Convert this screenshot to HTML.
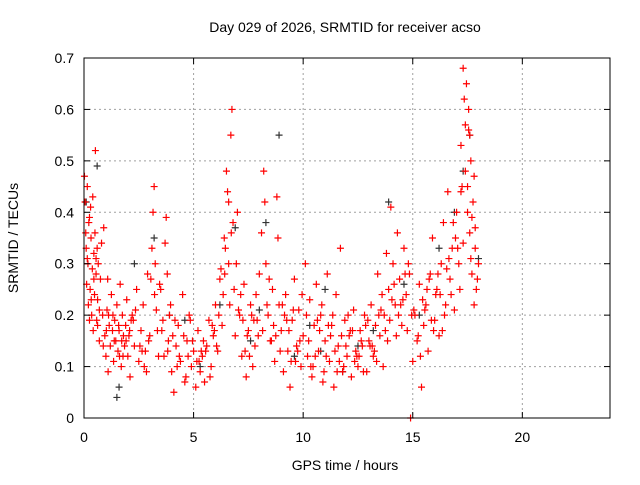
<!DOCTYPE html>
<html><head><meta charset="utf-8"><style>
body{margin:0;background:#fff;font-family:"Liberation Sans",sans-serif}
svg text{font-family:"Liberation Sans",sans-serif;font-size:14px;fill:#000}
</style></head><body>
<svg id="chart" width="640" height="480">
<rect x="0" y="0" width="640" height="480" fill="#fff"/>
<g id="grid"></g>
<g id="pts"></g>
<rect x="84" y="58" width="526" height="360" fill="none" stroke="#000" stroke-width="1"/>
<g id="ticks"></g>
<text x="345" y="32" text-anchor="middle">Day 029 of 2026, SRMTID for receiver acso</text>
<text x="345" y="470" text-anchor="middle">GPS time / hours</text>
<text x="18" y="238" text-anchor="middle" transform="rotate(-90 18 238)">SRMTID / TECUs</text>
</svg>
<script>
const xTicks=[0,5,10,15,20];
const yTicks=[0,0.1,0.2,0.3,0.4,0.5,0.6,0.7];
const yTickLabels=["0","0.1","0.2","0.3","0.4","0.5","0.6","0.7"];
const redT=[0.02,0.05,0.08,0.1,0.12,0.15,0.18,0.2,0.22,0.25,
0.28,0.3,0.32,0.35,0.38,0.4,0.42,0.45,0.48,0.5,
0.52,0.55,0.58,0.6,0.62,0.65,0.7,0.75,0.8,0.85,
0.9,0.95,1.0,1.05,1.1,1.15,1.2,1.25,1.3,1.35,
1.4,1.45,1.5,1.55,1.6,1.65,1.7,1.75,1.8,1.85,
1.9,1.95,2.0,2.05,2.1,2.2,2.3,2.4,2.5,2.6,
2.7,2.8,2.9,3.0,3.1,3.15,3.2,3.25,3.3,3.4,
3.5,3.6,3.7,3.75,3.8,3.85,3.9,4.0,4.1,4.2,
4.3,4.4,4.5,4.6,4.7,4.8,4.9,5.0,5.1,5.2,
5.3,5.4,5.5,5.6,5.7,5.8,5.9,6.0,6.1,6.2,
6.3,6.4,6.5,6.55,6.6,6.65,6.7,6.75,6.8,6.85,
6.9,7.0,7.1,7.2,7.3,7.4,7.5,7.6,7.7,7.8,
7.9,8.0,8.1,8.2,8.25,8.3,8.4,8.5,8.6,8.7,
8.8,8.85,8.9,9.0,9.1,9.2,9.3,9.4,9.5,9.6,
9.7,9.8,9.9,10.0,10.1,10.2,10.3,10.4,10.5,10.6,
10.7,10.8,10.9,11.0,11.1,11.2,11.3,11.4,11.5,11.6,
11.7,11.8,11.9,12.0,12.1,12.2,12.3,12.4,12.5,12.6,
12.7,12.8,12.9,13.0,13.1,13.2,13.3,13.4,13.5,13.6,
13.7,13.8,13.9,14.0,14.1,14.2,14.3,14.4,14.5,14.6,
14.7,14.8,14.9,15.0,15.1,15.2,15.3,15.4,15.5,15.6,
15.7,15.8,15.9,16.0,16.1,16.2,16.3,16.4,16.5,16.6,
16.7,16.8,16.9,17.0,17.1,17.2,17.3,17.35,17.4,17.45,
17.5,17.55,17.6,17.65,17.7,17.75,17.8,17.85,17.9,18.0,
0.15,0.45,0.7,1.02,1.32,1.62,1.92,2.25,2.55,2.85,
3.05,3.35,3.65,3.95,4.25,4.55,4.85,5.15,5.45,5.75,
6.05,6.35,6.45,6.6,6.95,7.25,7.55,7.85,8.15,8.45,
8.75,9.05,9.35,9.65,9.95,10.25,10.55,10.85,11.15,11.45,
11.75,12.05,12.35,12.65,12.95,13.25,13.55,13.85,14.15,14.45,
14.75,15.05,15.35,15.65,15.95,16.25,16.55,16.85,17.15,17.5,
0.33,0.62,0.88,1.12,1.38,1.58,1.78,2.08,2.35,2.65,
2.95,3.22,3.55,3.82,4.05,4.35,4.65,4.95,5.25,5.55,
5.85,6.15,6.42,6.72,7.05,7.35,7.65,7.95,8.35,8.65,
8.95,9.25,9.55,9.85,10.15,10.45,10.75,11.05,11.35,11.65,
11.95,12.25,12.55,12.85,13.15,13.45,13.75,14.05,14.35,14.65,
14.95,15.25,15.55,15.85,16.15,16.45,16.75,17.05,17.25,17.6,
0.25,0.55,1.08,1.72,2.15,2.75,3.45,4.15,4.75,5.35,
5.95,6.25,7.15,7.45,7.75,8.55,9.15,9.45,9.75,10.35,
10.65,10.95,11.25,11.55,11.85,12.15,12.45,12.75,13.05,13.35,
13.65,13.95,14.25,14.55,14.85,15.45,15.75,16.05,16.35,16.65,
16.95,17.2,17.4,17.7,17.8,17.95,17.85,17.65,17.55,17.3];
const redV=[0.47,0.42,0.36,0.33,0.26,0.45,0.3,0.22,0.38,0.19,
0.25,0.41,0.35,0.2,0.29,0.43,0.17,0.32,0.24,0.36,
0.52,0.28,0.19,0.33,0.23,0.3,0.15,0.27,0.34,0.2,
0.37,0.16,0.12,0.21,0.09,0.18,0.14,0.24,0.17,0.11,
0.19,0.15,0.22,0.13,0.17,0.26,0.1,0.2,0.16,0.14,
0.18,0.23,0.12,0.16,0.08,0.2,0.14,0.25,0.11,0.17,
0.22,0.13,0.28,0.16,0.33,0.4,0.45,0.3,0.21,0.12,
0.25,0.19,0.34,0.39,0.28,0.15,0.2,0.09,0.05,0.14,
0.18,0.11,0.24,0.07,0.15,0.2,0.1,0.13,0.06,0.17,
0.09,0.12,0.07,0.14,0.19,0.1,0.16,0.22,0.13,0.27,
0.18,0.35,0.48,0.44,0.3,0.22,0.55,0.6,0.38,0.25,
0.16,0.4,0.2,0.12,0.26,0.08,0.17,0.22,0.1,0.14,
0.19,0.28,0.36,0.48,0.42,0.3,0.2,0.15,0.25,0.11,
0.43,0.35,0.22,0.17,0.09,0.24,0.13,0.06,0.19,0.27,
0.14,0.21,0.1,0.16,0.3,0.12,0.23,0.08,0.18,0.26,
0.13,0.2,0.07,0.15,0.28,0.11,0.18,0.06,0.24,0.14,
0.33,0.09,0.19,0.12,0.16,0.08,0.21,0.13,0.1,0.17,
0.14,0.2,0.09,0.15,0.22,0.12,0.18,0.28,0.16,0.24,
0.2,0.32,0.25,0.41,0.3,0.22,0.36,0.27,0.18,0.33,
0.24,0.3,0.0,0.11,0.2,0.15,0.26,0.06,0.18,0.22,
0.13,0.28,0.35,0.19,0.25,0.16,0.3,0.38,0.22,0.44,
0.27,0.33,0.21,0.4,0.3,0.53,0.68,0.62,0.57,0.65,
0.45,0.6,0.36,0.5,0.28,0.42,0.47,0.33,0.25,0.3,
0.31,0.27,0.21,0.17,0.2,0.12,0.15,0.19,0.14,0.09,
0.27,0.17,0.12,0.22,0.1,0.16,0.19,0.11,0.15,0.08,
0.14,0.24,0.33,0.42,0.3,0.19,0.12,0.24,0.17,0.27,
0.16,0.22,0.17,0.11,0.24,0.15,0.12,0.22,0.18,0.13,
0.16,0.2,0.11,0.15,0.19,0.13,0.21,0.15,0.26,0.22,
0.17,0.21,0.12,0.25,0.17,0.24,0.29,0.38,0.25,0.4,
0.23,0.18,0.14,0.2,0.15,0.18,0.12,0.17,0.21,0.13,
0.15,0.24,0.17,0.13,0.16,0.12,0.08,0.15,0.11,0.13,
0.18,0.2,0.28,0.36,0.21,0.13,0.2,0.16,0.22,0.18,
0.13,0.19,0.21,0.15,0.2,0.1,0.17,0.12,0.2,0.11,
0.14,0.17,0.12,0.18,0.14,0.2,0.17,0.23,0.2,0.28,
0.2,0.16,0.21,0.19,0.28,0.2,0.24,0.33,0.45,0.55,
0.39,0.31,0.27,0.15,0.19,0.1,0.26,0.19,0.12,0.13,
0.17,0.29,0.24,0.16,0.19,0.15,0.2,0.11,0.13,0.1,
0.19,0.09,0.16,0.09,0.1,0.17,0.12,0.09,0.14,0.11,
0.1,0.19,0.16,0.23,0.28,0.23,0.27,0.24,0.17,0.31,
0.35,0.44,0.48,0.39,0.22,0.27,0.37,0.31,0.56,0.34];
const blackT=[0.1,0.6,1.5,2.3,3.2,3.9,4.6,5.3,6.2,6.9,7.6,8.3,8.9,9.6,10.3,11.0,11.8,12.5,13.2,13.9,14.6,15.3,16.2,16.9,17.6,18.0,1.6,8.0,10.8,17.3];
const blackV=[0.42,0.49,0.04,0.3,0.35,0.2,0.19,0.1,0.22,0.37,0.15,0.38,0.55,0.12,0.18,0.25,0.09,0.14,0.17,0.42,0.26,0.2,0.33,0.4,0.55,0.31,0.06,0.21,0.13,0.48];

const X0=84,X1=610,Y0=418,Y1=58,XMAX=24,YMAX=0.7;
const xs=t=>X0+(t/XMAX)*(X1-X0);
const ys=v=>Y0-(v/YMAX)*(Y0-Y1);
const NS="http://www.w3.org/2000/svg";
const grid=document.getElementById('grid'),ticks=document.getElementById('ticks'),pts=document.getElementById('pts');
function mk(tag,attrs,parent){const e=document.createElementNS(NS,tag);for(const k in attrs)e.setAttribute(k,attrs[k]);parent.appendChild(e);return e;}
xTicks.forEach(t=>{
  const x=xs(t);
  if(t>0){const g=mk('line',{x1:x,x2:x,y1:Y1,y2:Y0,stroke:'#a0a0a0','stroke-dasharray':'2,3'},grid);
  
  }
  mk('line',{x1:x,x2:x,y1:Y0,y2:Y0-6,stroke:'#000'},ticks);
  mk('line',{x1:x,x2:x,y1:Y1,y2:Y1+6,stroke:'#000'},ticks);
  const l=mk('text',{x:x,y:Y0+24,'text-anchor':'middle'},ticks);l.textContent=t;
  
  
});
yTicks.forEach((v,i)=>{
  const y=ys(v);
  if(v>0&&v<YMAX){const g=mk('line',{x1:X0,x2:X1,y1:y,y2:y,stroke:'#a0a0a0','stroke-dasharray':'2,3'},grid);
  
  }
  mk('line',{x1:X0,x2:X0+6,y1:y,y2:y,stroke:'#000'},ticks);
  mk('line',{x1:X1,x2:X1-6,y1:y,y2:y,stroke:'#000'},ticks);
  const l=mk('text',{x:X0-10,y:y+5,'text-anchor':'end'},ticks);l.textContent=yTickLabels[i];
  
  
});
function plus(t,v,col){
  const x=xs(t),y=ys(v);
  const p=mk('path',{d:`M${x-3.5},${y}H${x+3.5}M${x},${y-3.5}V${y+3.5}`,stroke:col,'stroke-width':1.2,fill:'none'},pts);
  
  
}
blackT.forEach((t,i)=>plus(t,blackV[i],'#333'));
redT.forEach((t,i)=>plus(t,redV[i],'#ff0000'));
</script>
</body></html>
